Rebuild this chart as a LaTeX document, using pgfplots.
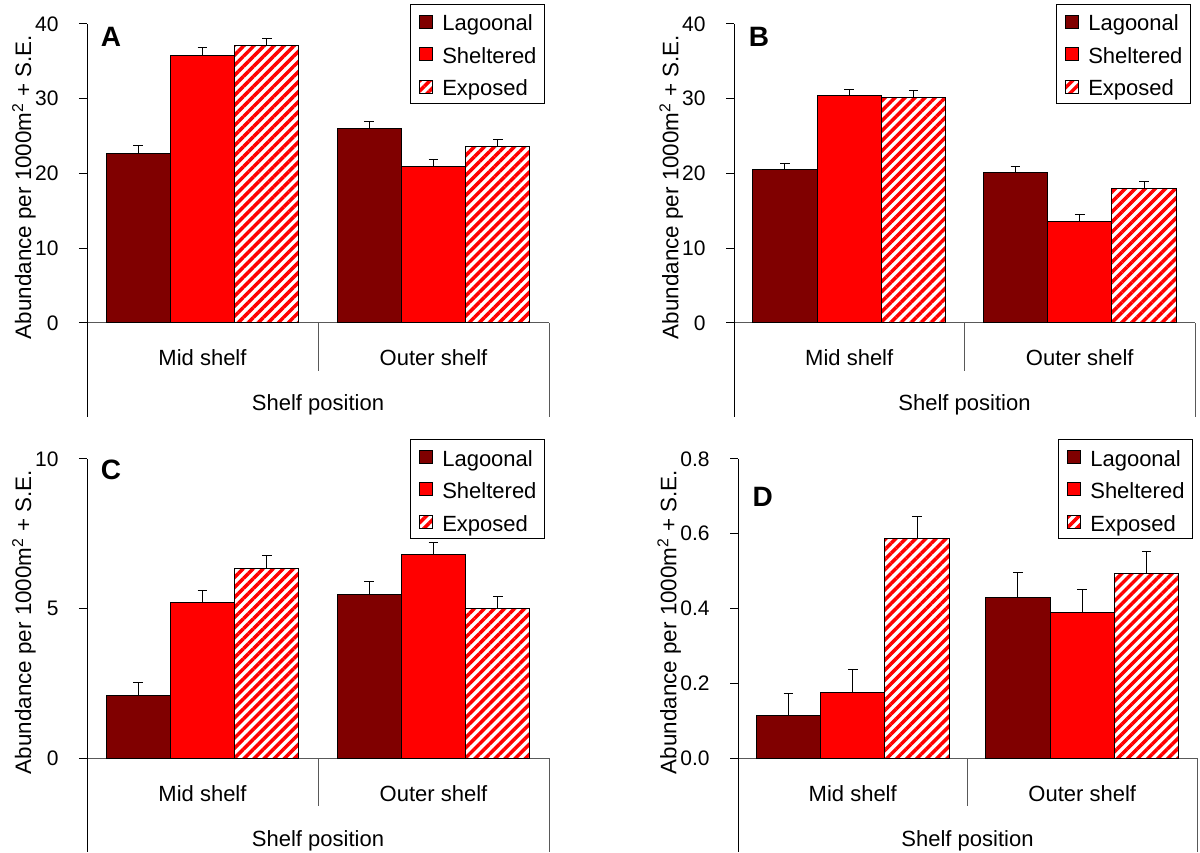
\documentclass[border=0pt]{standalone}
\usepackage{pgfplots}
\pgfplotsset{compat=1.18}
\usepackage{pgfplotstable}
\usepackage{fontspec}
\setmainfont{Liberation Sans}
\usetikzlibrary{patterns.meta}

\definecolor{lagoonal}{HTML}{800000}
\definecolor{sheltered}{HTML}{FF0000}

% columns: category, mean and S.E. for lagoonal, sheltered, exposed reefs
\pgfplotstableread{
x L Le S Se E Ee
0 22.7 1.0 35.8 1.0 37.1 1.0
1 26.0 0.9 21.0 0.9 23.6 0.9
}\dataA
\pgfplotstableread{
x L Le S Se E Ee
0 20.5 0.8 30.5 0.8 30.2 0.9
1 20.1 0.8 13.6 0.9 18.0 0.9
}\dataB
\pgfplotstableread{
x L Le S Se E Ee
0 2.10 0.42 5.20 0.40 6.35 0.42
1 5.47 0.42 6.80 0.42 5.00 0.40
}\dataC
\pgfplotstableread{
x L Le S Se E Ee
0 0.113 0.060 0.175 0.062 0.588 0.058
1 0.430 0.065 0.390 0.062 0.493 0.060
}\dataD

\pgfplotsset{
  legsq/.style={legend image code/.code={%
      \draw[##1, line width=0.5pt] (0pt,-3.3pt) rectangle (6.6pt,3.3pt);}},
  ebars/.style={error bars/.cd, y dir=plus, y explicit,
      error bar style={line width=0.5pt, black},
      error mark options={rotate=90, line width=0.5pt, black, mark size=2.4pt}},
  panel/.style={
    scale only axis, height=149.5pt,
    axis lines*=left, clip=false,
    xmin=-0.5, xmax=1.5, ymin=0, enlargelimits=false,
    ybar=0pt, bar width=32.15pt,
    xtick={0,1}, xticklabels={Mid shelf,Outer shelf},
    x tick style={draw=none},
    xticklabel style={anchor=base, yshift=-17.5pt, font=\fontsize{11}{13}\selectfont},
    xlabel={Shelf position},
    every axis x label/.style={at={(rel axis cs:0.5,0)}, anchor=base, yshift=-44pt,
      font=\fontsize{11}{13}\selectfont},
    ylabel={Abundance per 1000m\textsuperscript{2} + S.E.},
    every axis y label/.style={at={(rel axis cs:-0.1364,0.455)}, rotate=90, anchor=center,
      font=\fontsize{11.2}{13}\selectfont},
    tick align=outside, major tick length=4pt,
    y tick style={black, line width=0.5pt},
    yticklabel style={anchor=east, inner sep=0pt, xshift=-10pt,
      font=\fontsize{10.5}{12}\selectfont},
    /pgf/number format/assume math mode=true,
    x axis line style={draw=gray!70!black, line width=0.5pt},
    y axis line style={draw=black, line width=0.5pt},
    legend cell align=left,
    legend style={at={(rel axis cs:0.9913,1.0669)}, anchor=north east,
      draw=black, line width=0.5pt, fill=white,
      font=\fontsize{11}{13}\selectfont,
      inner xsep=4pt, inner ysep=2.5pt, row sep=4.05pt,
      nodes={inner sep=0pt, text height=10.75pt, text depth=1.45pt},
      /tikz/every odd column/.append style={column sep=4.6pt}},
  },
  lagbar/.style={draw=black, line width=0.5pt, fill=lagoonal, legsq, ebars},
  shebar/.style={draw=black, line width=0.5pt, fill=sheltered, legsq, ebars},
  expbar/.style={draw=black, line width=0.5pt,
      pattern={Lines[angle=45, distance=3.55pt, line width=1.75pt]},
      pattern color=sheltered, legsq, ebars},
}

% category frame below the x axis and the panel letter
\newcommand{\shelfframe}[3]{%
  \draw[black, line width=0.5pt] (rel axis cs:0,0) -- ++(0pt,-47pt);
  \draw[gray!70!black, line width=0.5pt] (rel axis cs:1,0) -- ++(0pt,-47pt);
  \draw[gray!70!black, line width=0.5pt] (rel axis cs:0.5,0) -- ++(0pt,-24pt);
  \node[font=\bfseries\fontsize{14}{14}\selectfont] at (rel axis cs:#1,#2) {#3};
}

\begin{document}
\begin{tikzpicture}
\useasboundingbox (0,0) rectangle (600pt,426pt);

% Panel A
\begin{axis}[panel, width=231pt, at={(43.5pt,264.5pt)}, anchor=south west,
    ymax=40, ytick={0,10,20,30,40}]
  \addplot[lagbar] table[x=x, y=L, y error=Le] {\dataA};
  \addplot[shebar] table[x=x, y=S, y error=Se] {\dataA};
  \addplot[expbar] table[x=x, y=E, y error=Ee] {\dataA};
  \legend{Lagoonal,Sheltered,Exposed}
  \shelfframe{0.052}{0.957}{A}
\end{axis}

% Panel B
\begin{axis}[panel, width=230.5pt, at={(367pt,264.5pt)}, anchor=south west,
    ymax=40, ytick={0,10,20,30,40}]
  \addplot[lagbar] table[x=x, y=L, y error=Le] {\dataB};
  \addplot[shebar] table[x=x, y=S, y error=Se] {\dataB};
  \addplot[expbar] table[x=x, y=E, y error=Ee] {\dataB};
  \legend{Lagoonal,Sheltered,Exposed}
  \shelfframe{0.054}{0.957}{B}
\end{axis}

% Panel C
\begin{axis}[panel, width=231pt, at={(43.5pt,47pt)}, anchor=south west,
    ymax=10, ytick={0,5,10}]
  \addplot[lagbar] table[x=x, y=L, y error=Le] {\dataC};
  \addplot[shebar] table[x=x, y=S, y error=Se] {\dataC};
  \addplot[expbar] table[x=x, y=E, y error=Ee] {\dataC};
  \legend{Lagoonal,Sheltered,Exposed}
  \shelfframe{0.052}{0.963}{C}
\end{axis}

% Panel D
\begin{axis}[panel, width=229.5pt, at={(369pt,47pt)}, anchor=south west,
    ymax=0.8, ytick={0,0.2,0.4,0.6,0.8},
    yticklabel style={/pgf/number format/.cd, fixed, fixed zerofill, precision=1},
    every axis y label/.append style={at={(rel axis cs:-0.150,0.455)}}]
  \addplot[lagbar] table[x=x, y=L, y error=Le] {\dataD};
  \addplot[shebar] table[x=x, y=S, y error=Se] {\dataD};
  \addplot[expbar] table[x=x, y=E, y error=Ee] {\dataD};
  \legend{Lagoonal,Sheltered,Exposed}
  \shelfframe{0.054}{0.873}{D}
\end{axis}
\end{tikzpicture}
\end{document}
